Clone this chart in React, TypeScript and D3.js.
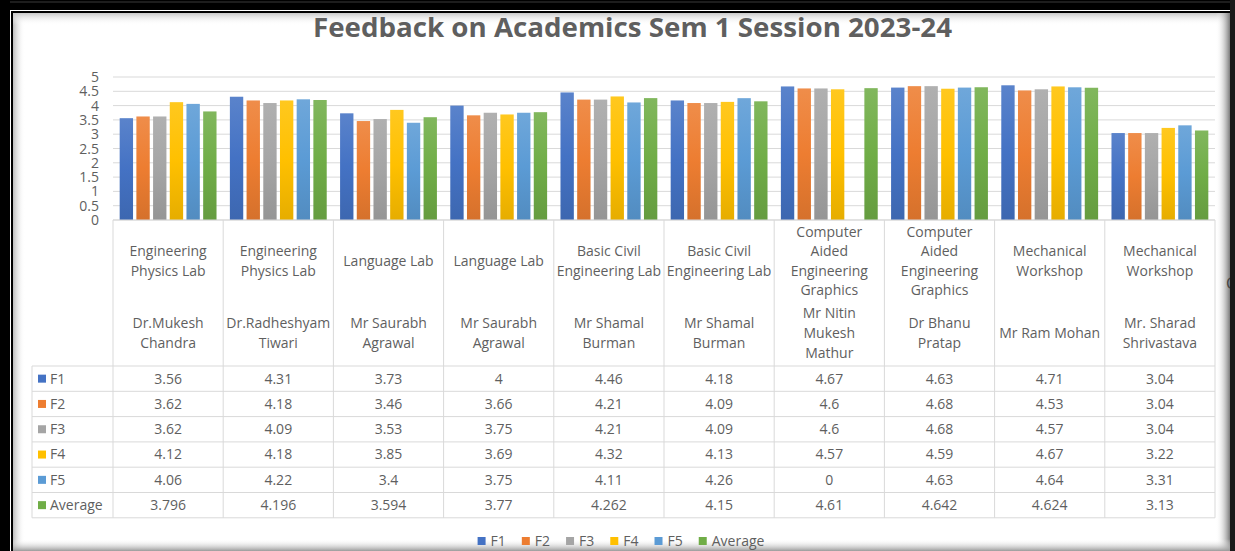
import React from "react";
import * as d3 from "d3";

const courses = [
  "Engineering\nPhysics Lab",
  "Engineering\nPhysics Lab",
  "Language Lab",
  "Language Lab",
  "Basic Civil\nEngineering Lab",
  "Basic Civil\nEngineering Lab",
  "Computer\nAided\nEngineering\nGraphics",
  "Computer\nAided\nEngineering\nGraphics",
  "Mechanical\nWorkshop",
  "Mechanical\nWorkshop",
];
const instructors = [
  "Dr.Mukesh\nChandra",
  "Dr.Radheshyam\nTiwari",
  "Mr Saurabh\nAgrawal",
  "Mr Saurabh\nAgrawal",
  "Mr Shamal\nBurman",
  "Mr Shamal\nBurman",
  "Mr Nitin\nMukesh\nMathur",
  "Dr Bhanu\nPratap",
  "Mr Ram Mohan",
  "Mr. Sharad\nShrivastava",
];
const seriesNames = ["F1", "F2", "F3", "F4", "F5", "Average"];
const F1 = [3.56, 4.31, 3.73, 4, 4.46, 4.18, 4.67, 4.63, 4.71, 3.04];
const F2 = [3.62, 4.18, 3.46, 3.66, 4.21, 4.09, 4.6, 4.68, 4.53, 3.04];
const F3 = [3.62, 4.09, 3.53, 3.75, 4.21, 4.09, 4.6, 4.68, 4.57, 3.04];
const F4 = [4.12, 4.18, 3.85, 3.69, 4.32, 4.13, 4.57, 4.59, 4.67, 3.22];
const F5 = [4.06, 4.22, 3.4, 3.75, 4.11, 4.26, 0, 4.63, 4.64, 3.31];
const Average = [3.796, 4.196, 3.594, 3.77, 4.262, 4.15, 4.61, 4.642, 4.624, 3.13];
const seriesValues = [F1, F2, F3, F4, F5, Average];
const colors = ["#4472C4", "#ED7D31", "#A5A5A5", "#FFC000", "#5B9BD5", "#70AD47"];
const yTicks = [0, 0.5, 1, 1.5, 2, 2.5, 3, 3.5, 4, 4.5, 5];
const title = "Feedback on Academics Sem 1 Session 2023-24";

const W = 1235;
const H = 551;
const FONT = "'Open Sans', sans-serif";
const TXT = "#5f5f5f";
const GRID = "#d9d9d9";

function measure(text: string, font: string) {
  const c = document.createElement("canvas");
  const ctx = c.getContext("2d")!;
  ctx.font = font;
  return ctx.measureText(text).width;
}

export default function App() {
  const plotL = 113;
  const plotR = 1215;
  const y0 = 220;
  const y5 = 77;
  const x = d3.scaleBand<number>().domain(d3.range(courses.length)).range([plotL, plotR]);
  const xi = d3
    .scaleBand<number>()
    .domain(d3.range(seriesNames.length))
    .range([0, x.bandwidth()])
    .paddingInner(0.2)
    .paddingOuter(0.4);
  const y = d3.scaleLinear().domain([0, 5]).range([y0, y5]);

  const tableTop = 366;
  const rowH = 25.3;
  const tableLeft = 32;
  const lineH = 19.6;
  const courseCenter = 261;
  const nameCenter = 333;

  const legFont = `14px ${FONT}`;
  const itemWidths = seriesNames.map((s) => 8 + 5 + measure(s, legFont));
  const legGap = 16;
  const legTotal = d3.sum(itemWidths) + legGap * (seriesNames.length - 1);
  let legX = 621 - legTotal / 2;
  const legPos = itemWidths.map((w) => {
    const p = legX;
    legX += w + legGap;
    return p;
  });

  const lines = (s: string) => s.split("\n");

  return (
    <svg
      width={W}
      height={H}
      style={{ position: "absolute", left: 0, top: 0, background: "#fff" }}
      fontFamily={FONT}
    >
      <defs>
        {colors.map((c, i) => {
          const top = d3.interpolateRgb(c, "#ffffff")(0.12);
          const bot = d3.interpolateRgb(c, "#000000")(0.1);
          return (
            <linearGradient key={i} id={`g${i}`} x1="0" y1="0" x2="0" y2="1">
              <stop offset="0" stopColor={top} />
              <stop offset="0.5" stopColor={c} />
              <stop offset="1" stopColor={bot} />
            </linearGradient>
          );
        })}
        <linearGradient id="shL" x1="0" y1="0" x2="1" y2="0">
          <stop offset="0" stopColor="#bdbdbd" />
          <stop offset="1" stopColor="#ffffff" stopOpacity="0" />
        </linearGradient>
        <linearGradient id="shT" x1="0" y1="0" x2="0" y2="1">
          <stop offset="0" stopColor="#c8c8c8" />
          <stop offset="1" stopColor="#ffffff" stopOpacity="0" />
        </linearGradient>
        <linearGradient id="shR" x1="0" y1="0" x2="1" y2="0">
          <stop offset="0" stopColor="#ffffff" stopOpacity="0" />
          <stop offset="1" stopColor="#7a7a7a" />
        </linearGradient>
        <linearGradient id="shB" x1="0" y1="0" x2="0" y2="1">
          <stop offset="0" stopColor="#ffffff" stopOpacity="0" />
          <stop offset="1" stopColor="#9a9a9a" />
        </linearGradient>
      </defs>

      <rect x={13} y={13} width={12} height={H - 13} fill="url(#shL)" />
      <rect x={13} y={13} width={1230 - 13} height={12} fill="url(#shT)" />
      <rect x={1216} y={13} width={14} height={H - 13} fill="url(#shR)" />
      <rect x={13} y={539} width={1230 - 13} height={12} fill="url(#shB)" />

      <text
        x={632.5}
        y={37}
        textAnchor="middle"
        fontSize={27}
        fontWeight="bold"
        fill={TXT}
        textLength={639}
        lengthAdjust="spacingAndGlyphs"
      >
        {title}
      </text>

      {yTicks.map((t) => (
        <line key={t} x1={plotL} x2={plotR} y1={y(t)} y2={y(t)} stroke={GRID} strokeWidth={1} />
      ))}
      {yTicks.map((t) => (
        <text key={t} x={99} y={y(t)} dy="0.36em" textAnchor="end" fontSize={14} fill={TXT}>
          {String(t)}
        </text>
      ))}

      {seriesValues.map((vals, si) =>
        vals.map((v, ci) =>
          v > 0 ? (
            <rect
              key={`${si}-${ci}`}
              x={(x(ci) as number) + (xi(si) as number)}
              y={y(v)}
              width={xi.bandwidth()}
              height={y(0) - y(v)}
              fill={`url(#g${si})`}
            />
          ) : null
        )
      )}

      <line x1={plotL} x2={plotR} y1={y0} y2={y0} stroke={GRID} />
      {d3.range(courses.length + 1).map((i) => {
        const xx = plotL + i * x.step();
        return <line key={i} x1={xx} x2={xx} y1={y0} y2={tableTop + rowH * 6} stroke={GRID} />;
      })}
      {d3.range(7).map((r) => (
        <line
          key={r}
          x1={tableLeft}
          x2={plotR}
          y1={tableTop + r * rowH}
          y2={tableTop + r * rowH}
          stroke={GRID}
        />
      ))}
      <line x1={tableLeft} x2={tableLeft} y1={tableTop} y2={tableTop + rowH * 6} stroke={GRID} />

      {courses.map((c, ci) => {
        const cx = (x(ci) as number) + x.bandwidth() / 2;
        const cl = lines(c);
        const nl = lines(instructors[ci]);
        return (
          <g key={ci} fontSize={14} fill={TXT} textAnchor="middle">
            {cl.map((l, li) => (
              <text key={`c${li}`} x={cx} y={courseCenter + (li - (cl.length - 1) / 2) * lineH} dy="0.35em">
                {l}
              </text>
            ))}
            {nl.map((l, li) => (
              <text key={`n${li}`} x={cx} y={nameCenter + (li - (nl.length - 1) / 2) * lineH} dy="0.35em">
                {l}
              </text>
            ))}
          </g>
        );
      })}

      {seriesNames.map((s, si) => {
        const cy = tableTop + si * rowH + rowH / 2;
        return (
          <g key={s} fontSize={14} fill={TXT}>
            <rect x={38} y={cy - 4} width={8} height={8} fill={colors[si]} />
            <text x={50} y={cy} dy="0.35em">
              {s}
            </text>
            {seriesValues[si].map((v, ci) => (
              <text key={ci} x={(x(ci) as number) + x.bandwidth() / 2} y={cy} dy="0.35em" textAnchor="middle">
                {String(v)}
              </text>
            ))}
          </g>
        );
      })}

      {seriesNames.map((s, si) => (
        <g key={s} fontSize={14} fill={TXT}>
          <rect x={legPos[si]} y={537} width={8} height={8} fill={colors[si]} />
          <text x={legPos[si] + 13} y={541} dy="0.35em">
            {s}
          </text>
        </g>
      ))}

      <text x={1226} y={289} fontSize={16} fill="#444">
        C
      </text>

      <rect x={0} y={0} width={W} height={10} fill="#000" />
      <rect x={0} y={1.5} width={W} height={1} fill="#3a3a3a" />
      <rect x={0} y={0} width={10} height={H} fill="#000" />
      <rect x={11} y={11} width={1219} height={2} fill="#000" />
      <rect x={11} y={11} width={2} height={H - 11} fill="#000" />
      <rect x={1230} y={0} width={5} height={H} fill="#1a1a1a" />
    </svg>
  );
}
